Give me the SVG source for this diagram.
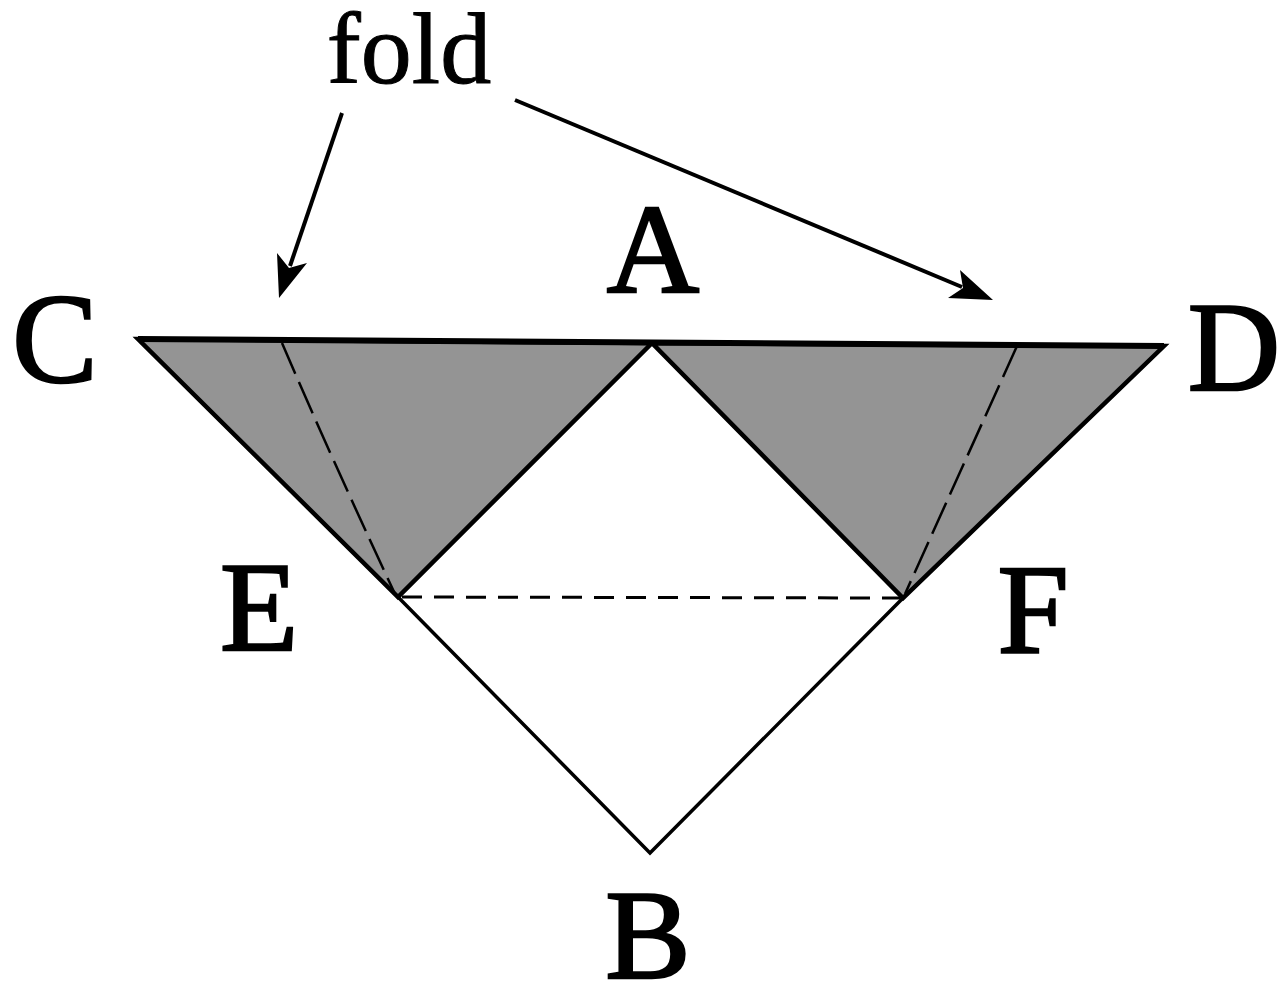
<svg xmlns="http://www.w3.org/2000/svg" width="1282" height="993" viewBox="0 0 1282 993">
  <style>
    .lbl { font-family: "Liberation Serif", "Times New Roman", serif; font-size: 128px; fill: #000; stroke: #000; stroke-width: 2.5; text-anchor: middle; }
    .fold { font-family: "Liberation Serif", "Times New Roman", serif; font-size: 102px; fill: #000; stroke: #000; stroke-width: 1; text-anchor: middle; }
    .gray { fill: #949494; stroke: #000; stroke-width: 4.5; stroke-linejoin: miter; }
    .top { fill: none; stroke: #000; stroke-width: 6; }
    .edge { fill: none; stroke: #000; stroke-width: 3.5; stroke-linejoin: miter; }
    .crease { fill: none; stroke: #000; stroke-width: 2.5; stroke-dasharray: 34 9; }
    .efdash { fill: none; stroke: #000; stroke-width: 3; stroke-dasharray: 20 12; }
    .arrow { fill: none; stroke: #000; stroke-width: 4; }
    .head { fill: #000; stroke: none; }
  </style>
  <rect width="1282" height="993" fill="#fff"/>

  <g id="shape">
    <polygon id="left-flap" class="gray" points="138,339 652,343 398,597"/>
    <polygon id="right-flap" class="gray" points="652,343 1164,346 903,598"/>
    <line id="top-edge" class="top" x1="138" y1="339" x2="1164" y2="346"/>
    <polyline id="lower-square" class="edge" points="398,597 650,853 903,598"/>
    <path id="crease-left" class="crease" d="M282,343 Q330,455 395,594"/>
    <path id="crease-right" class="crease" d="M1017,346 L905,594"/>
    <line id="crease-EF" class="efdash" x1="402" y1="597" x2="900" y2="598"/>
  </g>

  <g id="connectors">
    <line class="arrow" x1="342" y1="113" x2="290" y2="266"/>
    <polygon class="head" points="279,298 307,263 289,268 277,253"/>
    <line class="arrow" x1="515" y1="100" x2="962" y2="287"/>
    <polygon class="head" points="993,300 960,270 963,288 948,298"/>
  </g>

  <g id="label-fold"><text class="fold" x="409" y="83">fold</text></g>
  <g id="label-A"><text class="lbl" x="653" y="292">A</text></g>
  <g id="label-B"><text class="lbl" x="648" y="978">B</text></g>
  <g id="label-C"><text class="lbl" x="55" y="382">C</text></g>
  <g id="label-D"><text class="lbl" x="1234" y="390">D</text></g>
  <g id="label-E"><text class="lbl" x="259" y="650">E</text></g>
  <g id="label-F"><text class="lbl" x="1033" y="652">F</text></g>
</svg>
